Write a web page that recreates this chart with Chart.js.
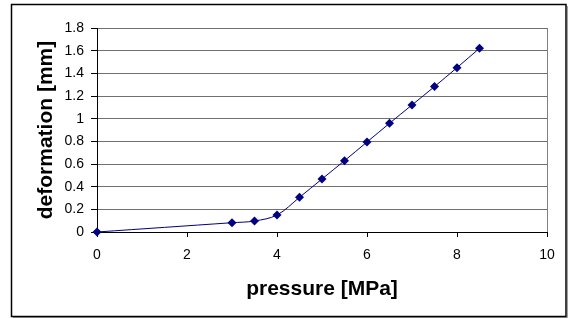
<!DOCTYPE html>
<html>
<head>
<meta charset="utf-8">
<script src="https://cdn.jsdelivr.net/npm/chart.js@4"></script>
<style>
  html, body { margin: 0; padding: 0; background: #fff; }
  #wrap { width: 570px; height: 319px; }
</style>
</head>
<body>
<div id="wrap"><canvas id="chart" width="570" height="319"></canvas></div>
<script>
// pressure [MPa] vs deformation [mm]
const pressure = [0, 3, 3.5, 4, 4.5, 5, 5.5, 6, 6.5, 7, 7.5, 8, 8.5];
const deformation = [0, 0.082, 0.097, 0.15, 0.306, 0.468, 0.629, 0.794, 0.959, 1.121, 1.283, 1.45, 1.621];
const xTicks = [0, 2, 4, 6, 8, 10];
const yTicks = [0, 0.2, 0.4, 0.6, 0.8, 1, 1.2, 1.4, 1.6, 1.8];

const FONT = "'Liberation Sans', Arial, sans-serif";

// outer frame + right edge of plot area (Excel look)
const framePlugin = {
  id: "frame",
  beforeDraw(chart) {
    const ctx = chart.ctx;
    ctx.save();
    ctx.fillStyle = "#fff";
    ctx.fillRect(0, 0, chart.width, chart.height);
    ctx.restore();
  },
  afterDraw(chart) {
    const ctx = chart.ctx;
    const a = chart.chartArea;
    ctx.save();
    ctx.strokeStyle = "#808080";
    ctx.lineWidth = 1;
    ctx.beginPath();
    ctx.moveTo(a.right + 0.5, a.top);
    ctx.lineTo(a.right + 0.5, a.bottom);
    ctx.stroke();
    ctx.strokeStyle = "#a0a0a0";
    ctx.beginPath();
    ctx.moveTo(13, 317.5);
    ctx.lineTo(567.5, 317.5);
    ctx.lineTo(567.5, 6);
    ctx.stroke();
    ctx.strokeStyle = "#000";
    ctx.lineWidth = 1.5;
    ctx.strokeRect(11.5, 4.5, 554.5, 312);
    ctx.restore();
  }
};

new Chart(document.getElementById("chart").getContext("2d"), {
  type: "line",
  data: {
    datasets: [{
      label: "deformation",
      data: pressure.map((p, i) => ({ x: p, y: deformation[i] })),
      borderColor: "#000080",
      backgroundColor: "#000080",
      borderWidth: 1,
      tension: 0.35,
      pointStyle: "rectRot",
      pointRadius: 4.5,
      pointBorderWidth: 0,
      clip: false,
      fill: false
    }]
  },
  options: {
    responsive: false,
    animation: false,
    layout: { padding: { left: 0, right: 23, top: 28, bottom: 0 } },
    plugins: {
      legend: { display: false },
      tooltip: { enabled: false }
    },
    scales: {
      x: {
        type: "linear",
        min: 0,
        max: 10,
        afterBuildTicks: (s) => { s.ticks = xTicks.map(v => ({ value: v })); },
        afterFit: (s) => { s.height = 87; },
        ticks: {
          color: "#000",
          font: { family: FONT, size: 14 },
          padding: 10,
          maxRotation: 0
        },
        grid: {
          drawOnChartArea: false,
          drawTicks: true,
          tickLength: 5,
          tickColor: "#000"
        },
        border: { color: "#000", width: 1 },
        title: {
          display: true,
          text: "pressure [MPa]",
          color: "#000",
          font: { family: FONT, size: 21, weight: "bold" },
          padding: { top: 0, bottom: 17 }
        }
      },
      y: {
        min: 0,
        max: 1.8,
        afterBuildTicks: (s) => { s.ticks = yTicks.map(v => ({ value: v })); },
        afterFit: (s) => { s.width = 97; },
        ticks: {
          color: "#000",
          font: { family: FONT, size: 14 },
          padding: 7,
          callback: (v) => String(Number(v.toFixed(1)))
        },
        grid: {
          color: "#707070",
          drawTicks: true,
          tickLength: 6,
          tickColor: "#000"
        },
        border: { color: "#000", width: 1 },
        title: {
          display: true,
          text: "deformation [mm]",
          color: "#000",
          font: { family: FONT, size: 21, weight: "bold" },
          padding: { top: 34, bottom: 0 }
        }
      }
    }
  },
  plugins: [framePlugin]
});
</script>
</body>
</html>
